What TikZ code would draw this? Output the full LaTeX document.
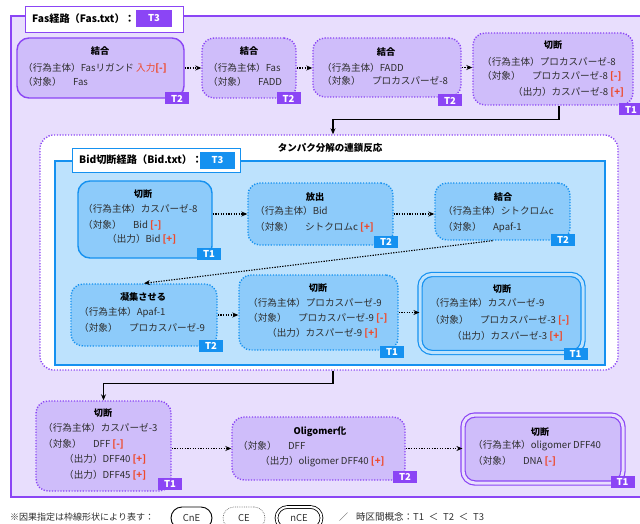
\documentclass[tikz,border=0pt]{standalone}
\usepackage{fontspec}
\setmainfont{Noto Sans CJK JP}
\usetikzlibrary{arrows.meta}

\definecolor{fasline}{HTML}{8B45F5}
\definecolor{fasbg}{HTML}{E8DEFD}
\definecolor{fasbox}{HTML}{CFBDFA}
\definecolor{bidline}{HTML}{1591F0}
\definecolor{bidbg}{HTML}{BDE2FD}
\definecolor{bidbox}{HTML}{8DCBFA}
\definecolor{markred}{HTML}{EE4A2C}
\definecolor{txt}{HTML}{2E2E2E}

\newcommand{\minusmark}{\textcolor{markred}{\bfseries[-]}}
\newcommand{\plusmark}{\textcolor{markred}{\bfseries[+]}}

\begin{document}
\begin{tikzpicture}[x=1pt, y=-1pt, font=\fontsize{9.6}{11}\selectfont,
    proc/.style={rounded corners=12pt, line width=1.4pt, inner sep=0pt},
    solidbox/.style={proc, draw=#1},
    dotbox/.style={proc, draw=#1, dash pattern=on 1.2pt off 1.6pt},
    dblbox/.style={proc, draw=#1, line width=1.2pt, double distance=3pt},
    tag/.style={fill=#1, text=white, font=\bfseries\fontsize{9.5}{9.5}\selectfont,
        minimum width=24pt, minimum height=12pt, inner sep=0pt},
    bigtag/.style={tag=#1, minimum width=36pt, minimum height=17pt},
    title/.style={font=\bfseries\fontsize{9.2}{10}\selectfont, inner sep=0pt},
    ln/.style={anchor=west, inner sep=0pt, text=txt},
    link/.style={-{Stealth[length=6pt, width=5pt]}, line width=1.1pt, black},
    flow/.style={link, dash pattern=on 1.3pt off 1.3pt},
    pill/.style={rounded corners=11pt, minimum height=22pt, inner sep=0pt,
        text=txt, font=\fontsize{9.5}{10}\selectfont}]

    \clip (0,0) rectangle (640,524);

    % Fas frame and its label
    \draw[fasline, line width=2pt, fill=fasbg] (11,16) rectangle (650,497);
    \node[draw=fasline, fill=white, line width=0.8pt, minimum width=158pt,
        minimum height=26pt, inner sep=0pt] (fashead) at (104,19) {};
    \node[ln, text=black, font=\bfseries\fontsize{10.2}{11}\selectfont] (fasname) at (32,19) {Fas経路（Fas.txt）：};
    \node[bigtag=fasline] (fast3) at (154,18.5) {T3};

    % Upper row of processes
    \node[solidbox=fasline, fill=fasbox, minimum width=167pt, minimum height=60pt] (a) at (100.5,68) {};
    \node[dotbox=fasline, fill=fasbox, minimum width=94pt, minimum height=60pt] (b) at (249,68) {};
    \node[dotbox=fasline, fill=fasbox, minimum width=148pt, minimum height=59pt] (c) at (387,67.5) {};
    \node[dotbox=fasline, fill=fasbox, minimum width=160pt, minimum height=72pt] (d) at (553,69) {};

    \node[title] (a0) at (100,51) {結合};
    \node[ln] (a1) at (23,68) {（行為主体）Fasリガンド \textcolor{markred}{入力}\minusmark};
    \node[ln] (a2) at (23,82) {（対象）\hspace{1.2em}Fas};
    \node[title] (b0) at (249,51) {結合};
    \node[ln] (b1) at (208,68) {（行為主体）Fas};
    \node[ln] (b2) at (208,82) {（対象）\hspace{1.2em}FADD};
    \node[title] (c0) at (386,52) {結合};
    \node[ln] (c1) at (322,68) {（行為主体）FADD};
    \node[ln] (c2) at (322,81) {（対象）\hspace{1.2em}プロカスパーゼ-8};
    \node[title] (d0) at (553,45) {切断};
    \node[ln] (d1) at (482,62) {（行為主体）プロカスパーゼ-8};
    \node[ln] (d2) at (482,76) {（対象）\hspace{1.2em}プロカスパーゼ-8 \minusmark};
    \node[ln] (d3) at (513,92) {（出力）カスパーゼ-8 \plusmark};

    \node[tag=fasline] (ta) at (177,98.5) {T2};
    \node[tag=fasline] (tb) at (288.5,98.5) {T2};
    \node[tag=fasline] (tc) at (450,100.5) {T2};
    \node[tag=fasline] (td) at (631,109.5) {T1};

    \draw[flow] (a.east) -- (b.west);
    \draw[flow] (b.east) -- (b.east -| c.west);
    \draw[flow] (c.east) -- (c.east -| d.west);

    % Chain of protein breakdown
    \node[dotbox=fasline, fill=white, rounded corners=14pt, minimum width=578pt,
        minimum height=235pt] (chain) at (329,252.5) {};
    \node[title, font=\bfseries\fontsize{9.5}{10}\selectfont] (chainname) at (330,148) {タンパク分解の連鎖反応};
    \draw[link] ([xshift=6pt]d.south) -- ++(0,14) -| ([xshift=4pt]chain.north);

    % Bid frame and its label
    \draw[bidline, line width=2pt, fill=bidbg] (55,161) rectangle (605,365);
    \node[draw=bidline, fill=white, line width=0.8pt, minimum width=168pt,
        minimum height=24pt, inner sep=0pt] (bidhead) at (156,160) {};
    \node[ln, text=black, font=\bfseries\fontsize{10.2}{11}\selectfont] (bidname) at (79,160) {Bid切断経路（Bid.txt）：};
    \node[bigtag=bidline, minimum width=35pt] (bidt3) at (217.5,160.5) {T3};

    \node[solidbox=bidline, fill=bidbox, minimum width=134pt, minimum height=77pt] (e) at (145,219.5) {};
    \node[dotbox=bidline, fill=bidbox, minimum width=145pt, minimum height=62pt] (f) at (320.5,214) {};
    \node[dotbox=bidline, fill=bidbox, minimum width=135pt, minimum height=57pt] (g) at (502.5,211.5) {};
    \node[dotbox=bidline, fill=bidbox, minimum width=146pt, minimum height=62pt] (h) at (144,315) {};
    \node[dotbox=bidline, fill=bidbox, minimum width=159pt, minimum height=75pt] (i) at (318.5,312.5) {};
    \node[dblbox=bidline, double=bidbg, fill=bidbox, minimum width=163pt, minimum height=78pt] (j) at (501.5,313.5) {};

    \node[title] (e0) at (143,194) {切断};
    \node[ln] (e1) at (83,209) {（行為主体）カスパーゼ-8};
    \node[ln] (e2) at (83,225) {（対象）\hspace{1.2em}Bid \minusmark};
    \node[ln] (e3) at (107,239) {（出力）Bid \plusmark};
    \node[title] (f0) at (315,197) {放出};
    \node[ln] (f1) at (255,211) {（行為主体）Bid};
    \node[ln] (f2) at (255,227) {（対象）\hspace{1.2em}シトクロムc \plusmark};
    \node[title] (g0) at (503,197) {結合};
    \node[ln] (g1) at (443,211) {（行為主体）シトクロムc};
    \node[ln] (g2) at (443,227) {（対象）\hspace{1.2em}Apaf-1};
    \node[title] (h0) at (143,297) {凝集させる};
    \node[ln] (h1) at (79,312) {（行為主体）Apaf-1};
    \node[ln] (h2) at (79,328) {（対象）\hspace{1.2em}プロカスパーゼ-9};
    \node[title] (i0) at (318,288) {切断};
    \node[ln] (i1) at (248,303) {（行為主体）プロカスパーゼ-9};
    \node[ln] (i2) at (248,318) {（対象）\hspace{1.2em}プロカスパーゼ-9 \minusmark};
    \node[ln] (i3) at (267,333) {（出力）カスパーゼ-9 \plusmark};
    \node[title] (j0) at (502,289) {切断};
    \node[ln] (j1) at (430,303) {（行為主体）カスパーゼ-9};
    \node[ln] (j2) at (430,320) {（対象）\hspace{1.2em}プロカスパーゼ-3 \minusmark};
    \node[ln] (j3) at (452,336) {（出力）カスパーゼ-3 \plusmark};

    \node[tag=bidline] (te) at (209,254) {T1};
    \node[tag=bidline] (tf) at (386,242) {T2};
    \node[tag=bidline] (tg) at (563,240) {T2};
    \node[tag=bidline] (th) at (211,345.5) {T2};
    \node[tag=bidline] (ti) at (392,351.5) {T1};
    \node[tag=bidline] (tj) at (575.5,353.5) {T1};

    \draw[flow] (f.west -| e.east) -- (f.west);
    \draw[flow] (f.east) -- (f.east -| g.west);
    \draw[flow] ([xshift=-10pt]g.south) -- (h.north);
    \draw[flow] (h.east) -- (h.east -| i.west);
    \draw[flow] (i.east) -- (i.east -| j.west);

    % Lower row of processes
    \node[dotbox=fasline, fill=fasbox, minimum width=135pt, minimum height=90pt] (k) at (103.5,446) {};
    \node[dotbox=fasline, fill=fasbox, minimum width=173pt, minimum height=63pt] (l) at (318.5,448.5) {};
    \node[dblbox=fasline, double=fasbg, fill=fasbox, minimum width=160pt, minimum height=68pt] (m) at (543,449) {};
    \draw[link] ([xshift=4pt]chain.south) -- ++(0,13) -| (k.north);

    \node[title] (k0) at (103,413) {切断};
    \node[ln] (k1) at (43,428) {（行為主体）カスパーゼ-3};
    \node[ln] (k2) at (43,444) {（対象）\hspace{1.2em}DFF \minusmark};
    \node[ln] (k3) at (64,459) {（出力）DFF40 \plusmark};
    \node[ln] (k4) at (64,475) {（出力）DFF45 \plusmark};
    \node[title] (l0) at (320,432) {Oligomer化};
    \node[ln] (l1) at (238,446) {（対象）\hspace{1.2em}DFF};
    \node[ln] (l2) at (260,462) {（出力）oligomer DFF40 \plusmark};
    \node[title] (m0) at (540,432) {切断};
    \node[ln] (m1) at (473,446) {（行為主体）oligomer DFF40};
    \node[ln] (m2) at (473,461) {（対象）\hspace{1.2em}DNA \minusmark};

    \node[tag=fasline] (tk) at (170,483.5) {T1};
    \node[tag=fasline] (tl) at (405,477) {T2};
    \node[tag=fasline] (tm) at (622.5,482) {T1};

    \draw[flow] (l.west -| k.east) -- (l.west);
    \draw[flow] (l.east) -- (l.east -| m.west);

    % Legend
    \node[ln, font=\fontsize{9}{10}\selectfont] (note) at (10,517) {※因果指定は枠線形状により表す：};
    \node[pill, draw=black, line width=0.9pt, minimum width=41pt] (cne) at (191.5,518) {CnE};
    \node[pill, draw=black!55, dash pattern=on 0.8pt off 1pt, line width=0.7pt, minimum width=42pt] (ce) at (244,518) {CE};
    \node[pill, draw=black, line width=0.8pt, double distance=2pt, minimum width=45pt] (nce) at (299,518) {nCE};
    \node[ln, font=\fontsize{9}{10}\selectfont] (slash) at (339,517) {／};
    \node[ln, font=\fontsize{9.5}{10}\selectfont] (period) at (356,517)
        {時区間概念：T1\hspace{0.5em}＜\hspace{0.5em}T2\hspace{0.5em}＜\hspace{0.5em}T3};

\end{tikzpicture}
\end{document}
